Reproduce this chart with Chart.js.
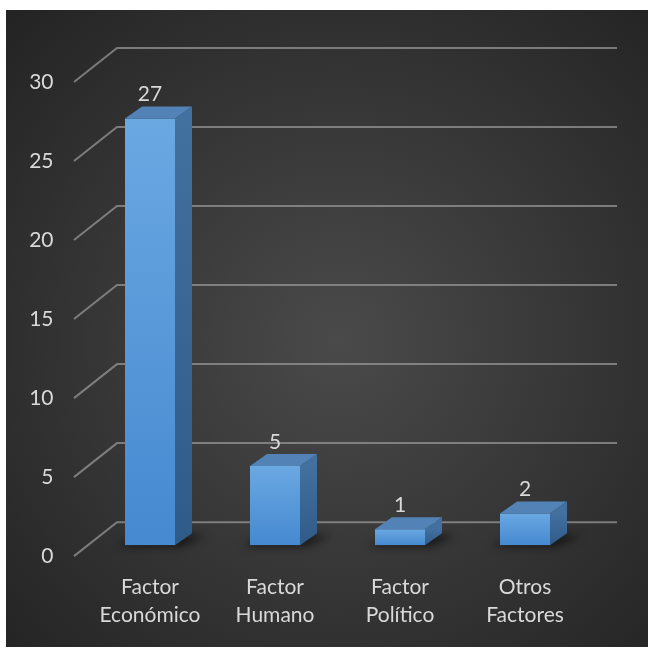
<!DOCTYPE html>
<html>
<head>
<meta charset="utf-8">
<script src="https://cdn.jsdelivr.net/npm/chart.js@4.4.0/dist/chart.umd.min.js"></script>
<style>
html, body { margin: 0; padding: 0; background: #fff; }
canvas { display: block; }
</style>
</head>
<body>
<canvas id="chart-factores" width="648" height="650"></canvas>
<script>
var categorias = [
    ["Factor", "Económico"],
    ["Factor", "Humano"],
    ["Factor", "Político"],
    ["Otros", "Factores"],
];
var valores = [27, 5, 1, 2];
var ticksY = [0, 5, 10, 15, 20, 25, 30];

// depth of the bars and of the back wall (pseudo 3D)
var DX = 17, DY = -12;

Chart.defaults.font.family = 'Lato, "Open Sans", sans-serif';
Chart.defaults.font.size = 21;
Chart.defaults.color = '#d9d9d9';

var fondo = {
    id: 'fondo',
    beforeDraw: function(chart) {
        var ctx = chart.ctx;
        ctx.save();
        ctx.fillStyle = '#fff';
        ctx.fillRect(0, 0, chart.width, chart.height);
        var g = ctx.createRadialGradient(340, 340, 0, 340, 340, 470);
        g.addColorStop(0, '#4a4a4a');
        g.addColorStop(1, '#232323');
        ctx.fillStyle = g;
        ctx.fillRect(6, 10, 642, 637);
        ctx.restore();
    }
};

var pared = {
    id: 'pared',
    beforeDatasetsDraw: function(chart) {
        var ctx = chart.ctx, a = chart.chartArea, y = chart.scales.y;
        ctx.save();
        ctx.strokeStyle = 'rgba(150,150,150,0.75)';
        ctx.lineWidth = 2;
        y.ticks.forEach(function(t) {
            var py = y.getPixelForValue(t.value);
            ctx.beginPath();
            ctx.moveTo(a.left - 13.5, py + 11);
            ctx.lineTo(a.left + 29.5, py - 23);
            ctx.lineTo(a.right + 29.5, py - 23);
            ctx.stroke();
        });
        // shadows under the bars
        var meta = chart.getDatasetMeta(0);
        ctx.filter = 'blur(4px)';
        ctx.fillStyle = 'rgba(0,0,0,0.6)';
        meta.data.forEach(function(bar) {
            var w = bar.width / 2, b = bar.base;
            ctx.beginPath();
            ctx.moveTo(bar.x - w - 8, b + 1);
            ctx.lineTo(bar.x + w + 6, b + 1);
            ctx.lineTo(bar.x + w + DX + 14, b + DY + 2);
            ctx.lineTo(bar.x - w + DX, b + DY + 2);
            ctx.closePath();
            ctx.fill();
        });
        ctx.restore();
    },
    afterDatasetsDraw: function(chart) {
        var ctx = chart.ctx;
        var meta = chart.getDatasetMeta(0);
        ctx.save();
        meta.data.forEach(function(bar, i) {
            var w = bar.width / 2, top = bar.y, b = bar.base;
            // side face
            var gs = ctx.createLinearGradient(0, top, 0, b);
            gs.addColorStop(0, '#42709f');
            gs.addColorStop(1, '#2f5b88');
            ctx.fillStyle = gs;
            ctx.beginPath();
            ctx.moveTo(bar.x + w, top);
            ctx.lineTo(bar.x + w + DX, top + DY);
            ctx.lineTo(bar.x + w + DX, b + DY);
            ctx.lineTo(bar.x + w, b);
            ctx.closePath();
            ctx.fill();
            // top face
            ctx.fillStyle = '#5282b6';
            ctx.beginPath();
            ctx.moveTo(bar.x - w, top);
            ctx.lineTo(bar.x - w + DX, top + DY);
            ctx.lineTo(bar.x + w + DX, top + DY);
            ctx.lineTo(bar.x + w, top);
            ctx.closePath();
            ctx.fill();
            // value label
            ctx.fillStyle = '#d9d9d9';
            ctx.font = '21px Lato, "Open Sans", sans-serif';
            ctx.textAlign = 'center';
            ctx.textBaseline = 'middle';
            ctx.fillText(valores[i], bar.x, top - 24);
        });
        ctx.restore();
    }
};

var chartF = document.getElementById("chart-factores");
var chartFactores = new Chart(chartF, {
    type: 'bar',
    plugins: [fondo, pared],
    options: {
        responsive: false,
        animation: false,
        layout: {
            padding: { left: 6, top: 71, right: 60.5, bottom: 1 }
        },
        plugins: {
            legend: { display: false },
            tooltip: { enabled: false },
        },
        scales: {
            x: {
                grid: { display: false },
                border: { display: false },
                ticks: {
                    padding: 20,
                    maxRotation: 0,
                    font: { size: 21, lineHeight: 1.33 },
                },
            },
            y: {
                min: 0,
                max: 30,
                grid: { display: false },
                border: { display: false },
                ticks: {
                    padding: 26,
                    labelOffset: 11,
                },
                afterBuildTicks: function(s) {
                    s.ticks = ticksY.map(function(v) { return { value: v }; });
                },
                afterFit: function(s) { s.width = 81.5; },
            }
        }
    },
    data: {
        labels: categorias,
        datasets: [{
            data: valores,
            borderWidth: 0,
            barPercentage: 0.4,
            categoryPercentage: 1,
            backgroundColor: function(c) {
                var chart = c.chart;
                if (!chart.chartArea || c.type !== 'data') return '#5b9bd5';
                var y = chart.scales.y;
                var top = y.getPixelForValue(c.raw), bottom = y.getPixelForValue(0);
                var g = chart.ctx.createLinearGradient(0, top, 0, bottom);
                g.addColorStop(0, '#6aa8e2');
                g.addColorStop(1, '#4689d0');
                return g;
            },
        }]
    }
});
</script>
</body>
</html>
